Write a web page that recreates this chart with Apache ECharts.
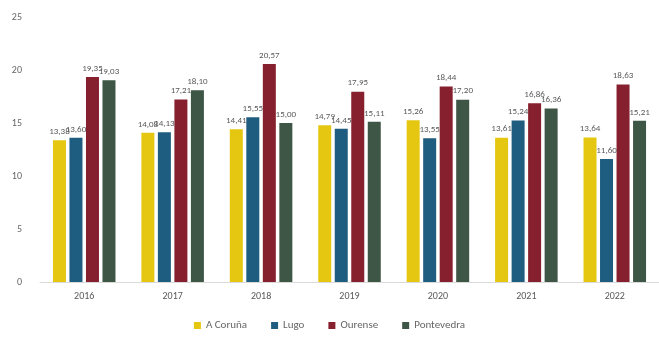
<!DOCTYPE html>
<html><head><meta charset="utf-8">
<script src="https://cdn.jsdelivr.net/npm/echarts@6/dist/echarts.min.js"></script>
<style>html,body{margin:0;padding:0;background:#fff}#c{width:659px;height:340px}</style>
</head><body><div id="c"></div>
<script>
const categories = ['2016','2017','2018','2019','2020','2021','2022'];
const aCoruna    = [13.38, 14.08, 14.41, 14.79, 15.26, 13.61, 13.64];
const lugo       = [13.60, 14.13, 15.55, 14.45, 13.55, 15.24, 11.60];
const ourense    = [19.35, 17.21, 20.57, 17.95, 18.44, 16.86, 18.63];
const pontevedra = [19.03, 18.10, 15.00, 15.11, 17.20, 16.36, 15.21];
const yTicks = [0, 5, 10, 15, 20, 25];

const names = ['A Coruña','Lugo','Ourense','Pontevedra'];
const colors = ['#E5C712','#1E5C80','#87202E','#3E5646'];
const datas = [aCoruna, lugo, ourense, pontevedra];

const chart = echarts.init(document.getElementById('c'));
chart.setOption({
  animation: false,
  backgroundColor: '#fff',
  textStyle: {fontFamily: 'Calibri, Carlito, Liberation Sans, sans-serif'},
  grid: {left: 40, top: 17, width: 628, bottom: 58, containLabel: false},
  legend: {
    bottom: 4, left: 'center', itemWidth: 7, itemHeight: 7, itemGap: 24,
    icon: 'rect',
    textStyle: {color: '#666', fontSize: 11},
    data: names
  },
  xAxis: {
    type: 'category', data: categories,
    axisLine: {lineStyle: {color: '#d9d9d9'}},
    axisTick: {show: false},
    axisLabel: {color: '#595959', fontSize: 10, margin: 9}
  },
  yAxis: {
    type: 'value', min: yTicks[0], max: yTicks[yTicks.length-1], interval: 5,
    splitLine: {show: false},
    axisLine: {show: false}, axisTick: {show: false},
    axisLabel: {color: '#666', fontSize: 10, margin: 18}
  },
  series: datas.map((d, i) => ({
    name: names[i], type: 'bar', data: d,
    barWidth: 13, barGap: '27%',
    itemStyle: {color: colors[i]},
    label: {
      show: true, position: 'top', distance: 4, color: '#595959', fontSize: 9,
      formatter: p => p.value.toFixed(2).replace('.', ',')
    }
  }))
});
</script></body></html>
